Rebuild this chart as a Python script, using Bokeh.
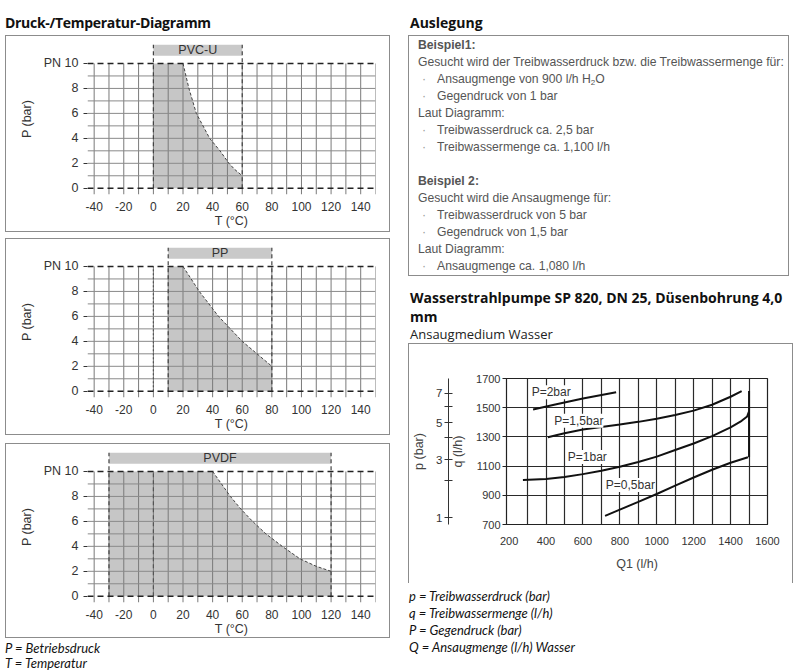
from bokeh.plotting import figure
from bokeh.models import Range1d, FixedTicker, LinearAxis, Div, Spacer
from bokeh.layouts import column, row
from bokeh.core.properties import value
from bokeh.embed import file_html
from bokeh.resources import INLINE

# ---------------- data ----------------
T_TICKS = [-40, -20, 0, 20, 40, 60, 80, 100, 120, 140]
T_TICK_LABELS = ["-40", "-20", "0", "20", "40", "60", "80", "100", "120", "140"]
T_GRID = [-40, -30, -20, -10, 0, 10, 20, 30, 40, 50, 60, 70, 80, 90, 100, 110, 120, 130, 140, 150]
P_TICKS = [0, 2, 4, 6, 8, 10]
P_TICK_LABELS = ["0", "2", "4", "6", "8", "PN 10"]
P_GRID = [1, 2, 3, 4, 5, 6, 7, 8, 9]
P_LIMITS = [0, 10]

PVCU_RANGE = [0, 60]
PVCU_T = [20, 24, 29, 38, 45, 51, 55, 60]
PVCU_P = [10, 8, 6, 4, 3, 2, 1.5, 1]

PP_RANGE = [10, 80]
PP_T = [20, 31, 44, 52, 60, 70, 80]
PP_P = [10, 8, 6, 5, 4, 3, 2]

PVDF_RANGE = [-30, 120]
PVDF_T = [40, 46, 52, 59, 67, 76, 87, 99, 110, 120]
PVDF_P = [10, 9, 8, 7, 6, 5, 4, 3, 2.4, 2]

Q1_TICKS = [200, 400, 600, 800, 1000, 1200, 1400, 1600]
Q1_GRID = [300, 400, 500, 600, 700, 800, 900, 1000, 1100, 1200, 1300, 1400, 1500, 1600]
Q_TICKS = [700, 900, 1100, 1300, 1500, 1700]
PBAR_LABELS = ["1", "3", "5", "7"]
PBAR_AT_Q = [745, 1145, 1397, 1600]
PBAR_MINOR_AT_Q = [1003, 1296, 1505]

P2_Q1 = [330, 450, 600, 780]
P2_Q = [1488, 1522, 1563, 1606]
P15_Q1 = [410, 500, 600, 700, 800, 900, 1000, 1100, 1200, 1300, 1400, 1460]
P15_Q = [1298, 1325, 1350, 1368, 1385, 1403, 1425, 1450, 1480, 1520, 1575, 1613]
P1_Q1 = [275, 400, 500, 600, 700, 800, 900, 1000, 1100, 1200, 1300, 1400, 1460, 1490, 1500]
P1_Q = [1005, 1012, 1025, 1045, 1068, 1095, 1128, 1165, 1210, 1255, 1305, 1365, 1410, 1440, 1475]
P05_Q1 = [720, 800, 900, 1000, 1100, 1200, 1300, 1400, 1494]
P05_Q = [759, 802, 855, 909, 966, 1022, 1075, 1123, 1161]
LIMIT_Q1 = [1500, 1500]
LIMIT_Q = [1161, 1615]
CURVE_NAMES = ["P=2bar", "P=1,5bar", "P=1bar", "P=0,5bar"]
CURVE_LABEL_Q1 = [428, 578, 624, 857]
CURVE_LABEL_Q = [1606, 1411, 1163, 970]

FONT = "Liberation Sans"
BORDER = "1px solid #8c8c8c"


def pt_chart(name, trange, curve_t, curve_p, zero_dash, height):
    p = figure(width=385, height=height, x_range=Range1d(-44.5, 150), y_range=Range1d(-0.5, 11.6),
               output_backend="svg", toolbar_location=None,
               min_border_left=81, min_border_right=16, min_border_top=7,
               min_border_bottom=height - 7 - 151)
    p.styles = {"border": BORDER, "box-sizing": "border-box"}
    p.outline_line_color = None
    p.grid.visible = False
    p.background_fill_color = "white"
    p.border_fill_color = "white"

    # filled operating area
    xs = [trange[0], trange[0]] + curve_t + [trange[1]]
    ys = [P_LIMITS[0], P_LIMITS[1]] + curve_p + [P_LIMITS[0]]
    p.patch(xs, ys, fill_color="#c6c6c6", line_color=None)

    # grid
    p.segment(x0=T_GRID, y0=[-0.5] * len(T_GRID), x1=T_GRID, y1=[P_LIMITS[1]] * len(T_GRID),
              line_color="#7a7a7a", line_width=1)
    p.segment(x0=[-44.5] * len(P_GRID), y0=P_GRID, x1=[150] * len(P_GRID), y1=P_GRID,
              line_color="#8a8a8a", line_width=1)

    # curve boundary
    p.line(curve_t, curve_p, line_color="#444444", line_width=1, line_dash="3 2")

    # zero-degree line
    if zero_dash is not None:
        p.segment(x0=[0], y0=[P_LIMITS[0]], x1=[0], y1=[P_LIMITS[1]],
                  line_color="#555555", line_width=1.2, line_dash=zero_dash)

    # header bar
    p.quad(left=[trange[0]], right=[trange[1]], bottom=[10.62], top=[11.5],
           fill_color="#c9c9c9", line_color=None)
    p.text(x=[(trange[0] + trange[1]) / 2], y=[11.06], text=[name],
           text_align="center", text_baseline="middle", text_font=value(FONT),
           text_font_size="12.5px", text_color="#333333")

    # temperature limits
    p.segment(x0=trange, y0=[P_LIMITS[0]] * 2, x1=trange, y1=[11.5] * 2,
              line_color="#444444", line_width=1.2, line_dash="4 3")
    # PN 10 and 0 lines
    p.segment(x0=[-44.5] * 2, y0=P_LIMITS, x1=[150] * 2, y1=P_LIMITS,
              line_color="#222222", line_width=1.6, line_dash="6 4")

    xa = p.xaxis[0]
    xa.ticker = FixedTicker(ticks=T_TICKS)
    xa.major_label_overrides = {t: l for t, l in zip(T_TICKS, T_TICK_LABELS)}
    xa.axis_line_color = None
    xa.major_tick_line_color = None
    xa.minor_tick_line_color = None
    xa.major_label_standoff = 1
    xa.major_label_text_font = FONT
    xa.major_label_text_font_size = "12px"
    xa.major_label_text_color = "#333333"
    xa.axis_label = "T (°C)"
    xa.axis_label_standoff = 0
    xa.axis_label_text_font = FONT
    xa.axis_label_text_font_size = "12.5px"
    xa.axis_label_text_font_style = "normal"
    xa.axis_label_text_color = "#333333"

    ya = p.yaxis[0]
    ya.ticker = FixedTicker(ticks=P_TICKS)
    ya.major_label_overrides = {t: l for t, l in zip(P_TICKS, P_TICK_LABELS)}
    ya.axis_line_color = None
    ya.major_tick_line_color = "#333333"
    ya.major_tick_out = 4
    ya.major_tick_in = 0
    ya.minor_tick_line_color = None
    ya.major_label_standoff = 5
    ya.major_label_text_font = FONT
    ya.major_label_text_font_size = "12.5px"
    ya.major_label_text_color = "#333333"
    ya.axis_label = "P (bar)"
    ya.axis_label_standoff = 7
    ya.axis_label_text_font = FONT
    ya.axis_label_text_font_size = "12.5px"
    ya.axis_label_text_font_style = "normal"
    ya.axis_label_text_color = "#333333"
    return p


f1 = pt_chart("PVC-U", PVCU_RANGE, PVCU_T, PVCU_P, None, 197)
f2 = pt_chart("PP", PP_RANGE, PP_T, PP_P, "2 2", 197)
f3 = pt_chart("PVDF", PVDF_RANGE, PVDF_T, PVDF_P, "4 3", 195)

# ---------------- pump chart ----------------
f4 = figure(width=385, height=240, x_range=Range1d(186, 1600), y_range=Range1d(700, 1700),
            output_backend="svg", toolbar_location=None,
            min_border_left=94, min_border_right=27, min_border_top=34, min_border_bottom=60)
f4.styles = {"border-top": BORDER, "border-left": BORDER, "border-right": BORDER,
             "box-sizing": "border-box"}
f4.outline_line_color = "#222222"
f4.outline_line_width = 1.2
f4.xgrid.ticker = FixedTicker(ticks=Q1_GRID)
f4.ygrid.ticker = FixedTicker(ticks=Q_TICKS)
f4.grid.grid_line_color = "#2a2a2a"
f4.grid.grid_line_width = 1.2
f4.grid.grid_line_alpha = 1

for xs, ys in [(P2_Q1, P2_Q), (P15_Q1, P15_Q), (P1_Q1, P1_Q), (P05_Q1, P05_Q), (LIMIT_Q1, LIMIT_Q)]:
    f4.line(xs, ys, line_color="#111111", line_width=2)

f4.text(x=CURVE_LABEL_Q1, y=CURVE_LABEL_Q, text=CURVE_NAMES, text_align="center",
        text_baseline="middle", text_font=value(FONT), text_font_size="12px",
        text_color="#333333", background_fill_color="white")

xa = f4.xaxis[0]
xa.ticker = FixedTicker(ticks=Q1_TICKS)
xa.axis_line_color = "#222222"
xa.major_tick_line_color = None
xa.minor_tick_line_color = None
xa.major_label_standoff = 6
xa.major_label_text_font = FONT
xa.major_label_text_font_size = "11px"
xa.major_label_text_color = "#333333"
xa.axis_label = "Q1 (l/h)"
xa.axis_label_standoff = 9
xa.axis_label_text_font = FONT
xa.axis_label_text_font_size = "12.5px"
xa.axis_label_text_font_style = "normal"
xa.axis_label_text_color = "#444444"

ya = f4.yaxis[0]
ya.ticker = FixedTicker(ticks=Q_TICKS)
ya.axis_line_color = "#222222"
ya.major_tick_line_color = "#222222"
ya.major_tick_out = 4
ya.major_tick_in = 0
ya.minor_tick_line_color = None
ya.major_label_standoff = 2
ya.major_label_text_font = FONT
ya.major_label_text_font_size = "11px"
ya.major_label_text_color = "#333333"
ya.axis_label = "q (l/h)"
ya.axis_label_standoff = 8
ya.axis_label_text_font = FONT
ya.axis_label_text_font_size = "12.5px"
ya.axis_label_text_font_style = "normal"
ya.axis_label_text_color = "#444444"

pax = LinearAxis(ticker=FixedTicker(ticks=PBAR_AT_Q, minor_ticks=PBAR_MINOR_AT_Q),
                 major_label_overrides={q: l for q, l in zip(PBAR_AT_Q, PBAR_LABELS)},
                 bounds=(700, 1700))
pax.axis_line_color = "#333333"
pax.major_tick_line_color = "#333333"
pax.minor_tick_line_color = "#333333"
pax.major_tick_in = 4
pax.major_tick_out = 4
pax.minor_tick_in = 4
pax.minor_tick_out = 4
pax.major_label_standoff = 2
pax.major_label_text_font = FONT
pax.major_label_text_font_size = "11.5px"
pax.major_label_text_color = "#333333"
pax.axis_label = "p (bar)"
pax.axis_label_standoff = 7
pax.axis_label_text_font = FONT
pax.axis_label_text_font_size = "12.5px"
pax.axis_label_text_font_style = "normal"
pax.axis_label_text_color = "#444444"
f4.add_layout(pax, "left")

# ---------------- texts ----------------
TITLE_CSS = "font-family:'Open Sans';font-weight:bold;font-size:14px;color:#111;line-height:19px;white-space:nowrap;"
title_left = Div(text=f"<div style=\"{TITLE_CSS}padding-top:13px;letter-spacing:-0.3px\">Druck-/Temperatur-Diagramm</div>",
                 width=385, height=35, margin=0)
title_right = Div(text=f"<div style=\"{TITLE_CSS}padding-top:13px;padding-left:2px\">Auslegung</div>",
                  width=385, height=35, margin=0)

BOX_LINES = [
    ("b", "Beispiel1:"),
    ("t", "Gesucht wird der Treibwasserdruck bzw. die Treibwassermenge für:"),
    ("i", "Ansaugmenge von 900 l/h H<span style='font-size:8px;position:relative;top:2px'>2</span>O"),
    ("i", "Gegendruck von 1 bar"),
    ("t", "Laut Diagramm:"),
    ("i", "Treibwasserdruck ca. 2,5 bar"),
    ("i", "Treibwassermenge ca. 1,100 l/h"),
    ("t", "&nbsp;"),
    ("b", "Beispiel 2:"),
    ("t", "Gesucht wird die Ansaugmenge für:"),
    ("i", "Treibwasserdruck von 5 bar"),
    ("i", "Gegendruck von 1,5 bar"),
    ("t", "Laut Diagramm:"),
    ("i", "Ansaugmenge ca. 1,080 l/h"),
]
rows = []
for kind, txt in BOX_LINES:
    if kind == "b":
        rows.append(f"<div style='font-weight:bold;height:17px'>{txt}</div>")
    elif kind == "i":
        rows.append(f"<div style='position:relative;padding-left:19px;height:17px'>"
                    f"<span style='position:absolute;left:4px;color:#999'>·</span>{txt}</div>")
    else:
        rows.append(f"<div style='height:17px'>{txt}</div>")
box_html = ("<div style=\"box-sizing:border-box;width:381px;height:241px;border:1px solid #8c8c8c;"
            "padding:1px 0 0 9px;font-family:'Liberation Sans';font-size:12.2px;line-height:17px;"
            "color:#555;white-space:nowrap;overflow:hidden\">" + "".join(rows) + "</div>")
ausl = Div(text=box_html, width=385, height=241, margin=0)

pump_title = Div(text=(
    "<div style=\"padding-top:12px;padding-left:2px\">"
    f"<div style=\"{TITLE_CSS}\">"
    "Wasserstrahlpumpe SP 820, DN 25, Düsenbohrung 4,0<br>mm</div>"
    "<div style=\"font-family:'Open Sans';font-size:13px;line-height:17px;color:#222\">Ansaugmedium Wasser</div>"
    "</div>"), width=385, height=67, margin=0)

NOTE_CSS = "font-family:'Lato';font-style:italic;font-size:13px;color:#111;white-space:nowrap;"
notes_right = Div(text=(
    f"<div style=\"{NOTE_CSS}line-height:17px;padding-top:5px;padding-left:1px\">"
    "<div>p = Treibwasserdruck (bar)</div><div>q = Treibwassermenge (l/h)</div>"
    "<div>P = Gegendruck (bar)</div><div>Q = Ansaugmenge (l/h) Wasser</div></div>"),
    width=385, height=88, margin=0)
notes_left = Div(text=(
    f"<div style=\"{NOTE_CSS}line-height:15px;padding-top:3px\">"
    "<div>P = Betriebsdruck</div><div>T = Temperatur</div></div>"),
    width=385, height=33, margin=0)

left = column(title_left, f1, Spacer(width=385, height=6), f2, Spacer(width=385, height=8), f3,
              notes_left, spacing=0)
right = column(title_right, ausl, pump_title, f4, notes_right, spacing=0)
root = row(Spacer(width=5, height=10), left, Spacer(width=18, height=10), right, spacing=0)

open("out.html", "w").write(file_html(root, INLINE))
